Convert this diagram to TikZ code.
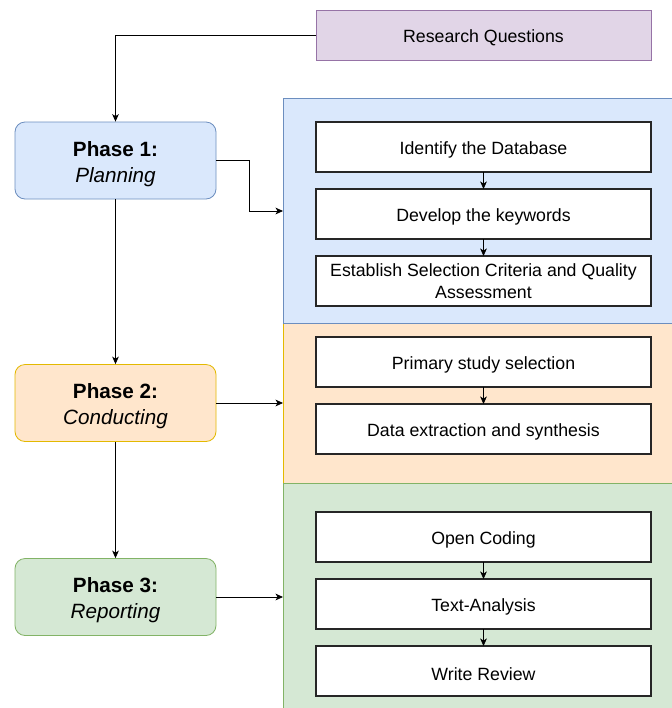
\documentclass[tikz,border=0pt]{standalone}
\usepackage{fontspec}
\setmainfont{Liberation Sans}
\usetikzlibrary{arrows.meta,positioning}
\definecolor{bluefill}{HTML}{DAE8FC}
\definecolor{blueline}{HTML}{6C8EBF}
\definecolor{orangefill}{HTML}{FFE6CC}
\definecolor{orangeline}{HTML}{D79B00}
\definecolor{greenfill}{HTML}{D5E8D4}
\definecolor{greenline}{HTML}{82B366}
\definecolor{purplefill}{HTML}{E1D5E7}
\definecolor{purpleline}{HTML}{9673A6}
\newcommand{\phaselabel}[2]{\rule{0pt}{16.5pt}\textbf{#1}\\\textit{#2}}
\tikzset{%
	phasenode/.style={rounded corners=7.5pt, minimum width=150.75pt, minimum height=57.75pt, align=center, line width=0.6pt, font=\fontsize{15.5}{19.5}\selectfont},
	stepnode/.style={draw=black!85, fill=white, minimum width=251.25pt, minimum height=37.5pt, align=center, line width=0.8pt, outer sep=0pt, font=\fontsize{13.3}{16.5}\selectfont, execute at begin node={\rule{0pt}{14.2pt}}},
	panel/.style={anchor=north west, inner sep=0pt, minimum width=291.4pt, line width=0.6pt},
	pt/.style={draw=black, ->, >={Stealth[length=5.6pt, width=5pt, inset=1.5pt]}, line width=0.6pt}
}
\begin{document}
\begin{tikzpicture}[x=0.75pt, y=-0.75pt]
		\clip (0,0) rectangle (672,708);
		\fill[white] (0,0) rectangle (672,708);
		
		% panels
		\node[panel, fill=bluefill, draw=blueline, minimum height=168.75pt] (blue) at (283,98) {};
		\node[panel, fill=orangefill, draw=orangeline!70!yellow, minimum height=120pt] (orange) at (283,323) {};
		\node[panel, fill=greenfill, draw=greenline, minimum height=180pt] (green) at (283,483) {};
		\draw[blueline, line width=0.6pt] (blue.south west) -- (blue.south east);
		
		\node[stepnode, fill=purplefill, draw=purpleline, line width=0.6pt] (rq) at (483.5,35) {Research Questions};
		
		\node[phasenode, fill=bluefill, draw=blueline] (p1) at (115.5,160.5) {\phaselabel{Phase 1:}{Planning}};
		\node[phasenode, fill=orangefill, draw=orangeline!70!yellow] (p2) at (115.5,403) {\phaselabel{Phase 2:}{Conducting}};
		\node[phasenode, fill=greenfill, draw=greenline] (p3) at (115.5,597) {\phaselabel{Phase 3:}{Reporting}};
		
		% steps
		\node[stepnode] (db) at (483.5,147) {Identify the Database};
		\node[stepnode] (kw) [below=12.75pt of db] {Develop the keywords};
		\node[stepnode] (crit) [below=12.75pt of kw] {Establish Selection Criteria and Quality\\Assessment};
		\node[stepnode] (sel) at (483.5,362) {Primary study selection};
		\node[stepnode] (ext) [below=12.75pt of sel] {Data extraction and synthesis};
		\node[stepnode] (code) at (483.5,537) {Open Coding};
		\node[stepnode] (text) [below=12.75pt of code] {Text-Analysis};
		\node[stepnode] (rev) [below=12.75pt of text] {Write Review};
		
		\path[pt] (db) edge (kw) (kw) edge (crit);
		\path[pt] (sel) edge (ext);
		\path[pt] (code) edge (text) (text) edge (rev);
		
		% phase links
		\coordinate (blueIn) at (283,211);
		\draw[pt] (rq.west) -| (p1.north);
		\draw[pt] (p1.east) -- ++(33,0) |- (blueIn);
		\draw[pt] (p1) -- (p2);
		\draw[pt] (p2) -- (p3);
		\draw[pt] (p2.east) -- (p2.east -| orange.west);
		\draw[pt] (p3.east) -- (p3.east -| green.west);
	\end{tikzpicture}
\end{document}
